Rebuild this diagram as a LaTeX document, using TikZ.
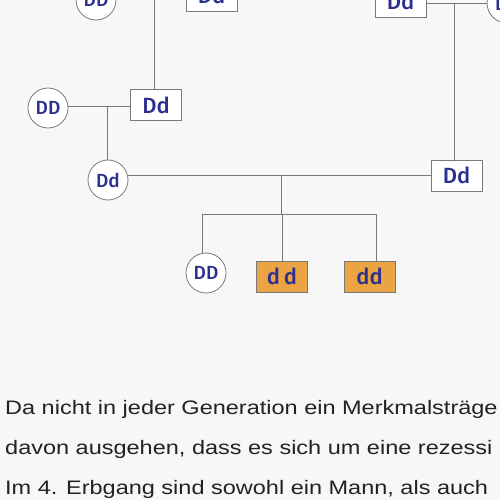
\documentclass[tikz,border=0pt]{standalone}
\usepackage{fontspec}
\setmainfont{Liberation Sans}
\newfontfamily\handfont{Fira Sans Medium}
\usetikzlibrary{positioning}
\definecolor{penblue}{HTML}{2B2F8F}
\definecolor{linegray}{HTML}{7A7A7A}
\definecolor{sick}{HTML}{EBA444}
\definecolor{textgray}{HTML}{222222}

\begin{document}
\begin{tikzpicture}
  [
      x=1pt, y=-1pt,
      female/.style={circle, draw=linegray, thick, fill=white, minimum size=40pt, inner sep=0pt, text=penblue, font=\handfont\fontsize{19}{19}\selectfont},
      male/.style={rectangle, draw=linegray, thick, fill=#1, minimum width=51pt, minimum height=31pt, inner sep=0pt, text=penblue, font=\handfont\fontsize{22}{22}\selectfont},
      male/.default=white,
      line/.style={draw=linegray, thick},
      textline/.style={anchor=base west, inner sep=0pt, text=textgray, font=\fontsize{23.5}{28}\selectfont, yscale=.83}
    ]
    \useasboundingbox (0,0) rectangle (500,500);
    \clip (0,0) rectangle (500,500);
    \fill [white!97!black] (0,0) rectangle (500,500);
    % generation 1
    \node (c1) [female] at (96,0) {DD};
    \node (b1) [male] at (211.5,-4.5) {Dd};
    \node (b2) [male] at (400.5,1.5) {Dd};
    \node (c2) [female] at (507,3) {Dd};
    % generation 2
    \node (c3) [female] at (48,108) {DD};
    \node (b3) [male] at (156,105) {Dd};
    \node (b4) [male] at (456.5,175.5) {Dd};
    % generation 3 / 4
    \node (c4) [female] at (108,180) {Dd};
    \node (c5) [female] at (206,273) {DD};
    \node (b5) [male=sick] at (282,276.5) {d\,d};
    \node (b6) [male=sick] at (369.5,276.5) {dd};
    % couples
    \coordinate (m1) at (154,-5);
    \coordinate (m2) at (454,3);
    \coordinate (m3) at (107,106);
    \coordinate (m4) at (281,175);
    \coordinate (k) at (281,214);
    \path [line] (m1 -| c1.east) -- (m1 -| b1.west);
    \path [line] (m2 -| b2.east) -- (m2 -| c2.west);
    \path [line] (m3 -| c3.east) -- (m3 -| b3.west);
    \path [line] (m4 -| c4.east) -- (m4 -| b4.west);
    % descent
    \path [line] (m1) -- (m1 |- b3.north);
    \path [line] (m2) -- (m2 |- b4.north);
    \path [line] (m3) -- (m3 |- c4.north);
    \path [line] (m4) -- (k);
    \path [line] (202,214) -- (376,214);
    \foreach \x/\n in {202/c5,282/b5,376/b6}
      \path [line] (\x,214) -- (\x,0 |- \n.north);
    % text below
    \node (t1) [textline] at (5,414) {Da nicht in jeder Generation ein Merkmalsträge};
    \node (t2) [textline] at (5,454) {davon ausgehen, dass es sich um eine rezessi};
    \node (t3) [textline] at (5,494) {Im 4. Erbgang sind sowohl ein Mann, als auch};
  \end{tikzpicture}
\end{document}
